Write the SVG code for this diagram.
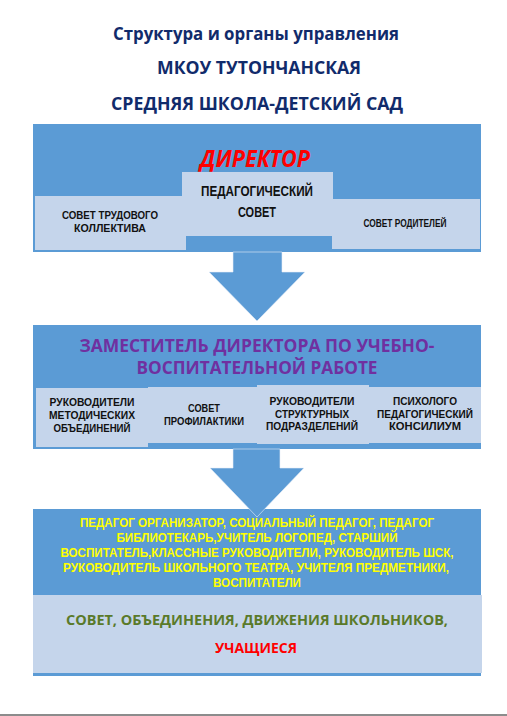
<svg xmlns="http://www.w3.org/2000/svg" width="507" height="716" viewBox="0 0 507 716">
<style>
text{font-family:"Open Sans","Noto Sans","DejaVu Sans",sans-serif;font-weight:bold;text-anchor:middle}
.title{fill:#112b6b;font-size:17px}
.blue{fill:#5b9bd5}
.light{fill:#c5d5eb}
.dark{fill:#111111;font-family:"Liberation Sans","Arial",sans-serif}
.yel{fill:#ffff00;font-size:12px;font-family:"Liberation Sans","Arial",sans-serif}
.arrow{fill:#5b9bd5;stroke:#e8eef8;stroke-width:0.6}
</style>
<rect width="507" height="716" fill="#ffffff"/>
<g id="title">
<text class="title" x="256" y="40" textLength="286" lengthAdjust="spacingAndGlyphs">Структура и органы управления</text>
<text class="title" x="259" y="74" textLength="204" lengthAdjust="spacingAndGlyphs">МКОУ ТУТОНЧАНСКАЯ</text>
<text class="title" x="257" y="110" textLength="292" lengthAdjust="spacingAndGlyphs">СРЕДНЯЯ ШКОЛА-ДЕТСКИЙ САД</text>
</g>
<g id="director">
<rect class="blue" x="33" y="124" width="448" height="128"/>
<text x="255" y="167" font-size="23" font-style="italic" fill="#ff0000" textLength="110" lengthAdjust="spacingAndGlyphs">ДИРЕКТОР</text>
</g>
<g id="sovet-trud">
<rect class="light" x="35" y="196" width="151" height="54"/>
<text class="dark" x="110" y="219" font-size="11.5" textLength="96" lengthAdjust="spacingAndGlyphs">СОВЕТ ТРУДОВОГО</text>
<text class="dark" x="110" y="232" font-size="11.5" textLength="72" lengthAdjust="spacingAndGlyphs">КОЛЛЕКТИВА</text>
</g>
<g id="ped-sovet">
<rect class="light" x="182" y="172" width="151" height="64"/>
<text class="dark" x="257" y="196" font-size="14" textLength="112" lengthAdjust="spacingAndGlyphs">ПЕДАГОГИЧЕСКИЙ</text>
<text class="dark" x="257" y="217" font-size="14" textLength="38" lengthAdjust="spacingAndGlyphs">СОВЕТ</text>
</g>
<g id="sovet-rod">
<rect class="light" x="332" y="199" width="148" height="50"/>
<text class="dark" x="405" y="227" font-size="10" textLength="83" lengthAdjust="spacingAndGlyphs">СОВЕТ РОДИТЕЛЕЙ</text>
</g>
<g id="zam">
<rect class="blue" x="33" y="325" width="448" height="124"/>
<text x="257" y="352" font-size="18" fill="#7030a0" textLength="355" lengthAdjust="spacingAndGlyphs">ЗАМЕСТИТЕЛЬ ДИРЕКТОРА ПО УЧЕБНО-</text>
<text x="257" y="374" font-size="18" fill="#7030a0" textLength="241" lengthAdjust="spacingAndGlyphs">ВОСПИТАТЕЛЬНОЙ РАБОТЕ</text>
</g>
<g id="ruk-met">
<rect class="light" x="36" y="388" width="112" height="59"/>
<text class="dark" x="92" y="406" font-size="11" textLength="85" lengthAdjust="spacingAndGlyphs">РУКОВОДИТЕЛИ</text>
<text class="dark" x="92" y="419" font-size="11" textLength="86" lengthAdjust="spacingAndGlyphs">МЕТОДИЧЕСКИХ</text>
<text class="dark" x="92" y="432" font-size="11" textLength="77" lengthAdjust="spacingAndGlyphs">ОБЪЕДИНЕНИЙ</text>
</g>
<g id="sovet-prof">
<rect class="light" x="148" y="387" width="109" height="56"/>
<text class="dark" x="204" y="412" font-size="11" textLength="32" lengthAdjust="spacingAndGlyphs">СОВЕТ</text>
<text class="dark" x="204" y="424.5" font-size="11" textLength="80" lengthAdjust="spacingAndGlyphs">ПРОФИЛАКТИКИ</text>
</g>
<g id="ruk-str">
<rect class="light" x="257" y="385" width="112" height="59"/>
<text class="dark" x="312" y="405" font-size="11" textLength="85" lengthAdjust="spacingAndGlyphs">РУКОВОДИТЕЛИ</text>
<text class="dark" x="312" y="417.5" font-size="11" textLength="74" lengthAdjust="spacingAndGlyphs">СТРУКТУРНЫХ</text>
<text class="dark" x="312" y="430" font-size="11" textLength="92" lengthAdjust="spacingAndGlyphs">ПОДРАЗДЕЛЕНИЙ</text>
</g>
<g id="psy">
<rect class="light" x="369" y="387" width="112" height="56"/>
<text class="dark" x="425" y="405" font-size="11" textLength="64" lengthAdjust="spacingAndGlyphs">ПСИХОЛОГО</text>
<text class="dark" x="425" y="417.5" font-size="11" textLength="96" lengthAdjust="spacingAndGlyphs">ПЕДАГОГИЧЕСКИЙ</text>
<text class="dark" x="425" y="430" font-size="11" textLength="72" lengthAdjust="spacingAndGlyphs">КОНСИЛИУМ</text>
</g>
<g id="staff">
<rect class="blue" x="33" y="509" width="448" height="167"/>
<text class="yel" x="257" y="527" textLength="354" lengthAdjust="spacingAndGlyphs">ПЕДАГОГ ОРГАНИЗАТОР, СОЦИАЛЬНЫЙ ПЕДАГОГ, ПЕДАГОГ</text>
<text class="yel" x="257" y="542" textLength="281" lengthAdjust="spacingAndGlyphs">БИБЛИОТЕКАРЬ,УЧИТЕЛЬ ЛОГОПЕД, СТАРШИЙ</text>
<text class="yel" x="257" y="557" textLength="393" lengthAdjust="spacingAndGlyphs">ВОСПИТАТЕЛЬ,КЛАССНЫЕ РУКОВОДИТЕЛИ, РУКОВОДИТЕЛЬ ШСК,</text>
<text class="yel" x="256" y="572" textLength="386" lengthAdjust="spacingAndGlyphs">РУКОВОДИТЕЛЬ ШКОЛЬНОГО ТЕАТРА, УЧИТЕЛЯ ПРЕДМЕТНИКИ,</text>
<text class="yel" x="257" y="587" textLength="88" lengthAdjust="spacingAndGlyphs">ВОСПИТАТЕЛИ</text>
</g>
<g id="students">
<rect class="light" x="33" y="595" width="449" height="78"/>
<text x="257" y="625" font-size="15" fill="#5a7a2a" textLength="382" lengthAdjust="spacingAndGlyphs">СОВЕТ, ОБЪЕДИНЕНИЯ,  ДВИЖЕНИЯ  ШКОЛЬНИКОВ,</text>
<text x="256" y="653" font-size="15" fill="#ff0000" textLength="82" lengthAdjust="spacingAndGlyphs">УЧАЩИЕСЯ</text>
</g>
<g id="connectors">
<polygon class="arrow" points="233,252 282,252 282,272 305,272 257,321 209,272 233,272"/>
<polygon class="arrow" points="233,449 280,449 280,468 304,468 257,517 210,468 233,468"/>
</g>
<line x1="0" y1="715" x2="507" y2="715" stroke="#666666" stroke-width="1.5"/>
</svg>
